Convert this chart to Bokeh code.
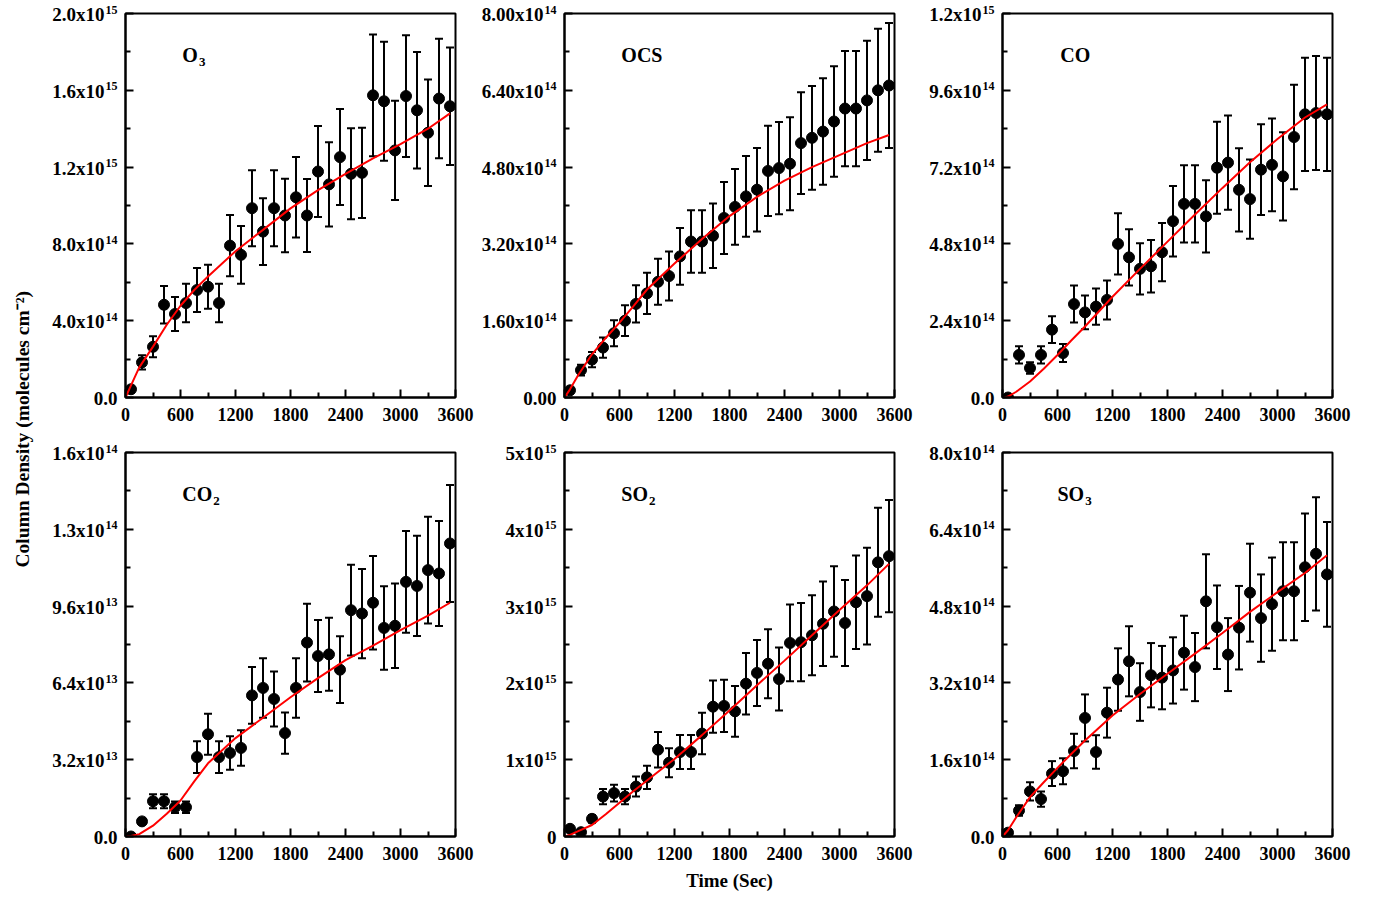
from math import pi
from bokeh.plotting import figure
from bokeh.models import (Range1d, FixedTicker, CustomJSTickFormatter, Whisker,
                          TeeHead, ColumnDataSource, Label)
from bokeh.core.properties import value
from bokeh.layouts import row, column
from bokeh.embed import file_html
from bokeh.resources import INLINE

# ---------------- data ----------------
time_s = [60, 180, 300, 420, 540, 660, 780, 900, 1020, 1140, 1260, 1380, 1500, 1620, 1740,
          1860, 1980, 2100, 2220, 2340, 2460, 2580, 2700, 2820, 2940, 3060, 3180, 3300, 3420, 3540]
fit_t = [0, 60, 150, 300, 450, 600, 750, 900, 1200, 1500, 1800, 2100, 2400, 2700, 3000, 3300, 3540]

# O3 (x1e14 molecules cm-2)
o3_val = [0.43, 1.83, 2.64, 4.83, 4.35, 4.92, 5.6, 5.77, 4.92, 7.91, 7.43, 9.86, 8.64, 9.86, 9.48,
          10.43, 9.48, 11.77, 11.1, 12.52, 11.65, 11.7, 15.74, 15.43, 12.87, 15.7, 14.96, 13.79, 15.57, 15.17]
o3_err = [0.1, 0.37, 0.55, 0.98, 0.89, 1.0, 1.15, 1.15, 1.0, 1.6, 1.5, 1.98, 1.74, 1.98, 1.91,
          2.1, 1.9, 2.37, 2.2, 2.5, 2.37, 2.35, 3.17, 3.1, 2.58, 3.17, 3.03, 2.77, 3.11, 3.06]
o3_fit = [0, 0.63, 1.57, 2.65, 3.79, 4.78, 5.6, 6.3, 7.62, 8.73, 9.85, 10.8, 11.65, 12.45, 13.2, 14.0, 14.8]

# OCS (x1e14)
ocs_val = [0.15, 0.57, 0.79, 1.04, 1.34, 1.6, 1.95, 2.17, 2.41, 2.53, 2.94, 3.25, 3.25, 3.37, 3.74,
           3.97, 4.19, 4.33, 4.72, 4.78, 4.87, 5.30, 5.41, 5.54, 5.75, 6.02, 6.02, 6.19, 6.40, 6.50]
ocs_err = [0.03, 0.11, 0.16, 0.21, 0.27, 0.32, 0.39, 0.43, 0.48, 0.51, 0.59, 0.65, 0.65, 0.67, 0.75,
           0.79, 0.84, 0.87, 0.94, 0.96, 0.97, 1.06, 1.08, 1.11, 1.15, 1.2, 1.2, 1.24, 1.28, 1.3]
ocs_fit = [0, 0.17, 0.47, 0.9, 1.24, 1.56, 1.9, 2.25, 2.79, 3.3, 3.78, 4.18, 4.52, 4.8, 5.05, 5.3, 5.47]

# CO (x1e14)
co_val = [0.0, 1.33, 0.92, 1.33, 2.12, 1.39, 2.92, 2.66, 2.84, 3.05, 4.80, 4.38, 4.02, 4.10, 4.54,
          5.51, 6.05, 6.05, 5.66, 7.18, 7.34, 6.49, 6.20, 7.12, 7.27, 6.91, 8.14, 8.85, 8.89, 8.85]
co_err = [0.0, 0.27, 0.18, 0.27, 0.42, 0.28, 0.58, 0.53, 0.57, 0.61, 0.96, 0.88, 0.8, 0.82, 0.91,
          1.1, 1.21, 1.21, 1.13, 1.44, 1.47, 1.3, 1.24, 1.42, 1.45, 1.38, 1.63, 1.77, 1.78, 1.77]
co_fit = [-0.03, 0.03, 0.18, 0.5, 0.9, 1.33, 1.78, 2.22, 3.15, 4.02, 4.87, 5.72, 6.55, 7.35, 8.08, 8.75, 9.16]

# CO2 (x1e13)
co2_val = [0.0, 0.63, 1.47, 1.47, 1.22, 1.22, 3.31, 4.26, 3.31, 3.48, 3.69, 5.88, 6.19, 5.73, 4.31,
           6.19, 8.08, 7.52, 7.59, 6.95, 9.43, 9.29, 9.74, 8.69, 8.78, 10.61, 10.44, 11.10, 10.96, 12.21]
co2_err = [0.0, 0.13, 0.29, 0.29, 0.24, 0.24, 0.66, 0.85, 0.66, 0.7, 0.74, 1.18, 1.24, 1.15, 0.86,
           1.24, 1.62, 1.5, 1.52, 1.39, 1.89, 1.86, 1.95, 1.74, 1.76, 2.12, 2.09, 2.22, 2.19, 2.44]
co2_fit = [0, 0.02, 0.1, 0.45, 0.95, 1.5, 2.3, 3.05, 4.1, 4.95, 5.8, 6.6, 7.35, 7.95, 8.6, 9.2, 9.74]

# SO2 (x1e15)
so2_val = [0.10, 0.056, 0.23, 0.52, 0.565, 0.52, 0.65, 0.77, 1.13, 0.96, 1.10, 1.10, 1.34, 1.69, 1.70,
           1.63, 1.99, 2.13, 2.25, 2.05, 2.52, 2.53, 2.62, 2.77, 2.93, 2.78, 3.05, 3.13, 3.57, 3.65]
so2_err = [0.02, 0.01, 0.05, 0.1, 0.11, 0.1, 0.13, 0.15, 0.23, 0.19, 0.22, 0.22, 0.27, 0.34, 0.34,
           0.33, 0.4, 0.43, 0.45, 0.41, 0.5, 0.51, 0.52, 0.55, 0.59, 0.56, 0.61, 0.63, 0.71, 0.73]
so2_fit = [0, 0.02, 0.07, 0.15, 0.29, 0.44, 0.59, 0.73, 1.01, 1.32, 1.64, 1.97, 2.29, 2.62, 2.95, 3.27, 3.55]

# SO3 (x1e14)
so3_val = [0.08, 0.54, 0.94, 0.78, 1.31, 1.36, 1.78, 2.47, 1.76, 2.58, 3.27, 3.65, 3.01, 3.36, 3.31,
           3.46, 3.83, 3.53, 4.90, 4.36, 3.79, 4.35, 5.08, 4.55, 4.84, 5.11, 5.11, 5.61, 5.89, 5.46]
so3_err = [0.02, 0.11, 0.19, 0.16, 0.26, 0.27, 0.36, 0.49, 0.35, 0.52, 0.65, 0.73, 0.6, 0.67, 0.66,
           0.69, 0.77, 0.71, 0.98, 0.87, 0.76, 0.87, 1.02, 0.91, 0.97, 1.02, 1.02, 1.12, 1.18, 1.09]
so3_fit = [0, 0.13, 0.4, 0.82, 1.13, 1.43, 1.72, 2.0, 2.52, 2.97, 3.39, 3.81, 4.24, 4.68, 5.09, 5.49, 5.86]

x_ticks = [0, 600, 1200, 1800, 2400, 3000, 3600]
x_minor = [300, 900, 1500, 2100, 2700, 3300]

# y ticks (in panel units) with mantissa / exponent labels
o3_ticks = [0, 4, 8, 12, 16, 20]
o3_mant = ["0.0", "4.0", "8.0", "1.2", "1.6", "2.0"]
o3_exp = ["", "14", "14", "15", "15", "15"]
ocs_ticks = [0, 1.6, 3.2, 4.8, 6.4, 8.0]
ocs_mant = ["0.00", "1.60", "3.20", "4.80", "6.40", "8.00"]
ocs_exp = ["", "14", "14", "14", "14", "14"]
co_ticks = [0, 2.4, 4.8, 7.2, 9.6, 12]
co_mant = ["0.0", "2.4", "4.8", "7.2", "9.6", "1.2"]
co_exp = ["", "14", "14", "14", "14", "15"]
co2_ticks = [0, 3.2, 6.4, 9.6, 12.8, 16]
co2_mant = ["0.0", "3.2", "6.4", "9.6", "1.3", "1.6"]
co2_exp = ["", "13", "13", "13", "14", "14"]
so2_ticks = [0, 1, 2, 3, 4, 5]
so2_mant = ["0", "1", "2", "3", "4", "5"]
so2_exp = ["", "15", "15", "15", "15", "15"]
so3_ticks = [0, 1.6, 3.2, 4.8, 6.4, 8.0]
so3_mant = ["0.0", "1.6", "3.2", "4.8", "6.4", "8.0"]
so3_exp = ["", "14", "14", "14", "14", "14"]

FONT = "Liberation Serif"
FRAME_W = 330
GAP = 6  # px between label strip and plot frame


def blank(width, height, xr, yr):
    f = figure(width=width, height=height, x_range=xr, y_range=yr,
               output_backend="svg", toolbar_location=None, min_border=0,
               x_axis_location=None, y_axis_location=None,
               background_fill_color="white", border_fill_color="white")
    f.grid.visible = False
    f.outline_line_color = None
    return f


def label_strip(width, height, unit, yticks, mant, expo):
    """Tick-label column left of a panel; its frame is aligned with the panel's frame."""
    ymax = yticks[-1] * unit
    s = blank(width, height, Range1d(0, width), Range1d(0, ymax))
    right = width + GAP
    main_x, main_y, main_t = [], [], []
    exp_x, exp_y, exp_t = [], [], []
    for tv, m, e in zip(yticks, mant, expo):
        if e:
            main_x.append(right - 21); main_y.append(tv * unit); main_t.append(m + "x10")
            exp_x.append(right - 8); exp_y.append(tv * unit); exp_t.append(e)
        else:
            main_x.append(right - 8); main_y.append(tv * unit); main_t.append(m)
    s.text(x=main_x, y=main_y, text=main_t, text_font=value(FONT), text_font_style="bold",
           text_font_size=value("19px"), text_color="black", text_align="right",
           text_baseline="middle", y_offset=1, level="overlay")
    s.text(x=exp_x, y=exp_y, text=exp_t, text_font=value(FONT), text_font_style="bold",
           text_font_size=value("12px"), text_color="black", text_align="right",
           text_baseline="alphabetic", y_offset=-4, level="overlay")
    return s


def make_panel(name, sub, unit, vals, errs, fit, yticks, height, br, bt, bb,
               name_x, name_w, xlabel=None):
    ys = [v * unit for v in vals]
    lo = [(v - e) * unit for v, e in zip(vals, errs)]
    hi = [(v + e) * unit for v, e in zip(vals, errs)]
    ymax = yticks[-1] * unit
    p = figure(width=GAP + FRAME_W + br, height=height, x_range=Range1d(0, 3600),
               y_range=Range1d(0, ymax), output_backend="svg", toolbar_location=None,
               min_border_left=GAP, min_border_right=br, min_border_top=bt,
               min_border_bottom=bb, background_fill_color="white",
               border_fill_color="white")
    p.grid.visible = False
    p.outline_line_color = "black"
    p.outline_line_width = 2
    p.outline_line_alpha = 1.0

    yt = [t * unit for t in yticks]
    ym = [(a + b) / 2 for a, b in zip(yt[:-1], yt[1:])]
    p.xaxis.ticker = FixedTicker(ticks=x_ticks, minor_ticks=x_minor)
    p.yaxis.ticker = FixedTicker(ticks=yt, minor_ticks=ym)
    p.yaxis.formatter = CustomJSTickFormatter(code="return '';")
    p.yaxis.major_label_standoff = 0
    for ax in (p.xaxis[0], p.yaxis[0]):
        ax.axis_line_width = 2
        ax.axis_line_color = "black"
        ax.major_tick_in = 8
        ax.major_tick_out = 0
        ax.minor_tick_in = 5
        ax.minor_tick_out = 0
        ax.major_tick_line_width = 2
        ax.minor_tick_line_width = 2
        ax.major_tick_line_color = "black"
        ax.minor_tick_line_color = "black"
        ax.major_label_text_font = FONT
        ax.major_label_text_font_style = "bold"
        ax.major_label_text_font_size = "18px"
        ax.major_label_text_color = "black"
    p.xaxis.major_label_standoff = 10
    if xlabel:
        p.xaxis.axis_label = xlabel
        p.xaxis.axis_label_text_font = FONT
        p.xaxis.axis_label_text_font_style = "bold"
        p.xaxis.axis_label_text_font_size = "19px"
        p.xaxis.axis_label_text_color = "black"
        p.xaxis.axis_label_standoff = 7

    src = ColumnDataSource(dict(t=time_s, y=ys, lo=lo, hi=hi))
    w = Whisker(source=src, base="t", upper="hi", lower="lo",
                line_color="black", line_width=2,
                upper_head=TeeHead(size=8, line_width=2, line_color="black"),
                lower_head=TeeHead(size=8, line_width=2, line_color="black"))
    p.add_layout(w)
    p.scatter("t", "y", source=src, size=11, color="black")
    p.line(fit_t, [f * unit for f in fit], line_color="red", line_width=2)

    ny = 0.892 * ymax
    p.add_layout(Label(x=name_x, y=ny, text=name, text_font=FONT, text_font_style="bold",
                       text_font_size="20px", text_color="black", text_baseline="alphabetic"))
    if sub:
        p.add_layout(Label(x=name_x, y=ny, text=sub, text_font=FONT, text_font_style="bold",
                           text_font_size="13px", text_color="black",
                           text_baseline="alphabetic", x_offset=name_w + 1, y_offset=-7))
    return p


H1, H2 = 437, 460
BT1, BB1, BT2, BB2 = 13, 40, 15, 61
LW = [79, 80, 78]   # label-strip widths per column
BR = [23, 24, 48]   # right borders per column

panels = [
    ("O", "3", 1e14, o3_val, o3_err, o3_fit, o3_ticks, o3_mant, o3_exp, 620, 15.6, None),
    ("OCS", "", 1e14, ocs_val, ocs_err, ocs_fit, ocs_ticks, ocs_mant, ocs_exp, 620, 0, None),
    ("CO", "", 1e14, co_val, co_err, co_fit, co_ticks, co_mant, co_exp, 630, 0, None),
    ("CO", "2", 1e13, co2_val, co2_err, co2_fit, co2_ticks, co2_mant, co2_exp, 620, 30, None),
    ("SO", "2", 1e15, so2_val, so2_err, so2_fit, so2_ticks, so2_mant, so2_exp, 620, 26.7, "Time (Sec)"),
    ("SO", "3", 1e14, so3_val, so3_err, so3_fit, so3_ticks, so3_mant, so3_exp, 600, 26.7, None),
]

rows = []
for r in range(2):
    H, BT, BB = (H1, BT1, BB1) if r == 0 else (H2, BT2, BB2)
    items = []
    for c in range(3):
        (name, sub, unit, vals, errs, fit, ticks, mant, expo, nx, nw, xl) = panels[r * 3 + c]
        items.append(label_strip(LW[c], H, unit, ticks, mant, expo))
        items.append(make_panel(name, sub, unit, vals, errs, fit, ticks, H, BR[c], BT, BB,
                                nx, nw, xlabel=xl))
    rows.append(row(*items))

tf = blank(40, 897, Range1d(0, 1), Range1d(0, 1))
tf.add_layout(Label(x=0.55, y=0.522, text="Column Density (molecules cm⁻²)", angle=pi / 2,
                    text_align="center", text_baseline="middle", text_font=FONT,
                    text_font_style="bold", text_font_size="19.5px", text_color="black"))

layout = row(tf, column(*rows))

open("out.html", "w").write(file_html(layout, INLINE))
